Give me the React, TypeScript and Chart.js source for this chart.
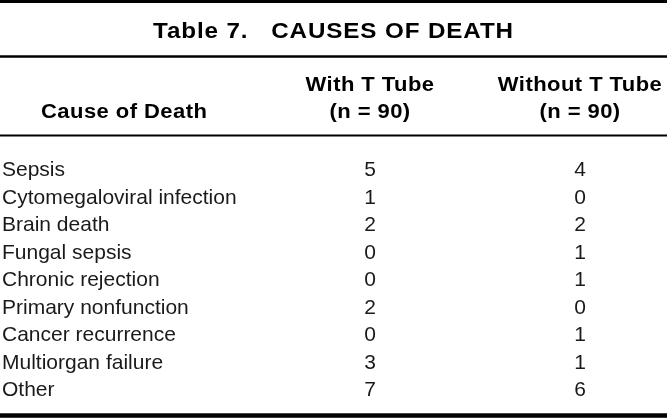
import { useEffect, useRef } from "react";
import { Chart, registerables } from "chart.js";

Chart.register(...registerables);

// ---- data ----
const tableTitle = "Table 7.   CAUSES OF DEATH";
const rowHeader = "Cause of Death";
const withHeader = ["With T Tube", "(n = 90)"];
const withoutHeader = ["Without T Tube", "(n = 90)"];
const causes = [
  "Sepsis",
  "Cytomegaloviral infection",
  "Brain death",
  "Fungal sepsis",
  "Chronic rejection",
  "Primary nonfunction",
  "Cancer recurrence",
  "Multiorgan failure",
  "Other",
];
const withTTube = [5, 1, 2, 0, 0, 2, 0, 3, 7];
const withoutTTube = [4, 0, 2, 1, 1, 0, 1, 1, 6];

// ---- layout (scale units: x = column index, y = row index) ----
const X_MIN = -0.762;
const X_MAX = 2.414;
const Y_MIN = -6.4;
const Y_MAX = 8.8;

const FONT = '"Liberation Sans", Arial, Helvetica, sans-serif';

function drawText(ctx: any, text: string, x: number, y: number, align: string, sx: number) {
  ctx.save();
  ctx.translate(x, y);
  ctx.scale(sx, 1);
  ctx.textAlign = align;
  ctx.fillText(text, 0, 0);
  ctx.restore();
}

const tablePlugin = {
  id: "tableText",
  afterDatasetsDraw(chart: any) {
    const { ctx, chartArea, scales } = chart;
    const xs = scales.x;
    const ys = scales.y;
    const L = chartArea.left;
    const R = chartArea.right;
    ctx.save();
    ctx.fillStyle = "#000";

    const hline = (yVal: number, w: number) => {
      const y = ys.getPixelForValue(yVal);
      ctx.fillRect(L, y - w / 2, R - L, w);
    };
    hline(-6.345, 3);
    hline(-4.345, 2.5);
    hline(-1.473, 2);
    hline(8.71, 4.5);

    ctx.textBaseline = "alphabetic";

    // title
    ctx.font = `bold 22px ${FONT}`;
    (ctx as any).letterSpacing = "0.8px";
    drawText(ctx, tableTitle, (L + R) / 2, ys.getPixelForValue(-5.018), "center", 1.1);

    // headers
    ctx.font = `bold 20px ${FONT}`;
    (ctx as any).letterSpacing = "0.4px";
    drawText(ctx, rowHeader, L + 41, ys.getPixelForValue(-2.11), "left", 1.1);
    drawText(ctx, withHeader[0], xs.getPixelForValue(1), ys.getPixelForValue(-3.09), "center", 1.1);
    drawText(ctx, withHeader[1], xs.getPixelForValue(1), ys.getPixelForValue(-2.11), "center", 1.1);
    drawText(ctx, withoutHeader[0], xs.getPixelForValue(2), ys.getPixelForValue(-3.09), "center", 1.1);
    drawText(ctx, withoutHeader[1], xs.getPixelForValue(2), ys.getPixelForValue(-2.11), "center", 1.1);

    // body
    (ctx as any).letterSpacing = "0px";
    ctx.font = `21px ${FONT}`;
    ctx.fillStyle = "#1a1a1a";
    causes.forEach((c, i) => {
      drawText(ctx, c, L + 2, ys.getPixelForValue(i), "left", 1);
    });
    chart.data.datasets.forEach((ds: any, di: number) => {
      const meta = chart.getDatasetMeta(di);
      meta.data.forEach((el: any, i: number) => {
        drawText(ctx, String(ds.data[i].v), el.x, el.y, "center", 1);
      });
    });
    ctx.restore();
  },
};

export default function App() {
  const ref = useRef<HTMLCanvasElement | null>(null);
  useEffect(() => {
    if (!ref.current) return;
    const chart = new Chart(ref.current, {
      type: "scatter",
      data: {
        datasets: [
          {
            label: "With T Tube",
            data: withTTube.map((v, i) => ({ x: 1, y: i, v })) as any,
            pointRadius: 0,
          },
          {
            label: "Without T Tube",
            data: withoutTTube.map((v, i) => ({ x: 2, y: i, v })) as any,
            pointRadius: 0,
          },
        ],
      },
      options: {
        animation: false,
        responsive: true,
        maintainAspectRatio: false,
        layout: { padding: 0 },
        events: [],
        plugins: {
          legend: { display: false },
          tooltip: { enabled: false },
          title: { display: false },
        },
        scales: {
          x: { type: "linear", display: false, min: X_MIN, max: X_MAX },
          y: { type: "linear", display: false, reverse: true, min: Y_MIN, max: Y_MAX },
        },
      },
      plugins: [tablePlugin],
    });
    return () => chart.destroy();
  }, []);
  return (
    <div
      style={{
        position: "fixed",
        left: 0,
        top: 0,
        width: 667,
        height: 418,
        background: "#fff",
      }}
    >
      <canvas ref={ref} />
    </div>
  );
}
